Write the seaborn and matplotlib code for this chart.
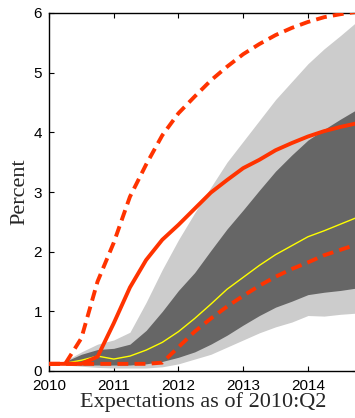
import numpy as np
import pandas as pd
import matplotlib
matplotlib.use("Agg")
import matplotlib.pyplot as plt
import seaborn as sns

# Quarterly horizon, 2010:Q1 through 2014:Q4
quarters = [2010.00, 2010.25, 2010.50, 2010.75,
            2011.00, 2011.25, 2011.50, 2011.75,
            2012.00, 2012.25, 2012.50, 2012.75,
            2013.00, 2013.25, 2013.50, 2013.75,
            2014.00, 2014.25, 2014.50, 2014.75]

# Distribution of expected rate paths (percent)
outer_low = [0.12, 0.10, 0.08, 0.06, 0.05, 0.05, 0.05, 0.07, 0.12, 0.20,
             0.28, 0.40, 0.52, 0.64, 0.74, 0.82, 0.93, 0.92, 0.95, 0.97]
outer_high = [0.12, 0.17, 0.32, 0.45, 0.52, 0.65, 1.15, 1.70, 2.20, 2.65,
              3.08, 3.50, 3.85, 4.20, 4.55, 4.85, 5.15, 5.40, 5.62, 5.85]
inner_low = [0.12, 0.11, 0.10, 0.10, 0.10, 0.10, 0.12, 0.16, 0.23, 0.32,
             0.45, 0.60, 0.77, 0.93, 1.07, 1.17, 1.28, 1.32, 1.35, 1.39]
inner_high = [0.12, 0.16, 0.28, 0.36, 0.38, 0.45, 0.68, 1.00, 1.35, 1.65,
              2.02, 2.38, 2.70, 3.03, 3.35, 3.62, 3.87, 4.05, 4.22, 4.38]
median = [0.12, 0.13, 0.18, 0.25, 0.20, 0.25, 0.35, 0.48, 0.66, 0.88,
          1.12, 1.37, 1.57, 1.77, 1.95, 2.10, 2.25, 2.35, 2.46, 2.57]

# Policy-rule paths
rule_path = [0.12, 0.12, 0.12, 0.24, 0.80, 1.40, 1.86, 2.20, 2.45, 2.72,
             2.99, 3.20, 3.40, 3.54, 3.70, 3.82, 3.93, 4.02, 4.09, 4.15]
rule_high = [0.12, 0.12, 0.55, 1.50, 2.15, 2.92, 3.46, 3.95, 4.32, 4.60,
             4.87, 5.10, 5.31, 5.48, 5.63, 5.75, 5.85, 5.93, 5.98, 6.02]
rule_low = [0.12, 0.12, 0.12, 0.12, 0.12, 0.12, 0.12, 0.14, 0.40, 0.66,
            0.88, 1.08, 1.26, 1.43, 1.58, 1.71, 1.82, 1.94, 2.03, 2.12]

y_ticks = [0, 1, 2, 3, 4, 5, 6]
x_ticks = [2010, 2011, 2012, 2013, 2014]
x_label = "Expectations as of 2010:Q2"
y_label = "Percent"

df = pd.DataFrame({
    "t": quarters, "median": median, "rule": rule_path,
    "rule_high": rule_high, "rule_low": rule_low,
})

sns.set_style("ticks")
plt.rcParams["font.family"] = ["Liberation Sans", "DejaVu Sans"]

fig = plt.figure(figsize=(3.55, 4.18), dpi=100)
ax = fig.add_axes([49 / 355, 47 / 418, 307.5 / 355, 358 / 418])

red = "#FF3300"

ax.fill_between(df["t"], outer_low, outer_high, color="#CCCCCC", lw=0, zorder=1)
ax.fill_between(df["t"], inner_low, inner_high, color="#666666", lw=0, zorder=2)

sns.lineplot(data=df, x="t", y="median", ax=ax, color="#FFFF00", lw=1.0, zorder=3)
sns.lineplot(data=df, x="t", y="rule", ax=ax, color=red, lw=2.8, zorder=4)
for col in ["rule_high", "rule_low"]:
    sns.lineplot(data=df, x="t", y=col, ax=ax, color=red, lw=2.8, zorder=4,
                 dashes=False, linestyle=(0, (2.8, 1.6)))
for line in ax.lines:
    line.set_dash_capstyle("butt")
    line.set_solid_capstyle("butt")

ax.set_xlim(2010, 2014.75)
ax.set_ylim(0, 6)
ax.set_xticks(x_ticks)
ax.set_xticklabels([str(v) for v in x_ticks])
ax.set_yticks(y_ticks)
ax.set_yticklabels([str(v) for v in y_ticks])
ax.tick_params(direction="in", length=3.5, width=0.8, top=True, right=True,
               labelsize=11, colors="black")
ax.tick_params(axis="x", pad=6)
ax.tick_params(axis="y", pad=5)

for s in ax.spines.values():
    s.set_visible(True)
    s.set_linewidth(1.0)
    s.set_color("black")

ax.set_xlabel(x_label, fontfamily=["Liberation Serif"], fontsize=16, labelpad=-1)
ax.set_ylabel(y_label, fontfamily=["Liberation Serif"], fontsize=16, labelpad=3)

fig.savefig("out.png", dpi=100)
